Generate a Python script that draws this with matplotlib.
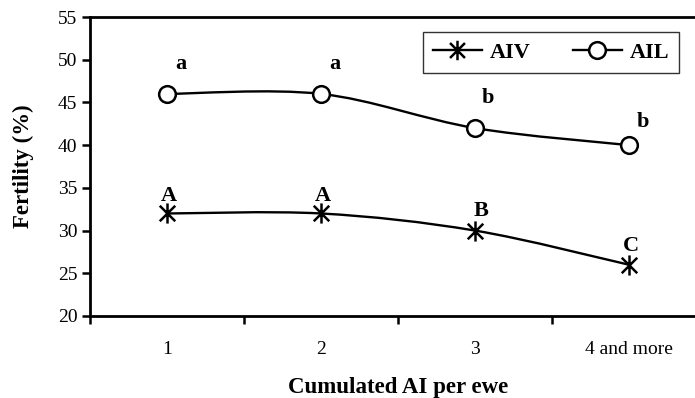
import numpy as np
import matplotlib.pyplot as plt
from matplotlib.path import Path
from matplotlib.patches import PathPatch
from matplotlib.lines import Line2D

categories = ["1", "2", "3", "4 and more"]
aiv = [32, 32, 30, 26]
ail = [46, 46, 42, 40]
aiv_letters = ["A", "A", "B", "C"]
ail_letters = ["a", "a", "b", "b"]

plt.rcParams['font.family'] = ['Liberation Serif', 'DejaVu Serif']

xpos = np.arange(len(categories)) + 0.5


def smooth_path(xs, ys, t=1/6.0):
    # excel-like smoothed line: cubic bezier with catmull-rom control points
    pts = np.column_stack([xs, ys]).astype(float)
    n = len(pts)
    verts = [pts[0]]
    codes = [Path.MOVETO]
    for i in range(n - 1):
        p0 = pts[i - 1] if i > 0 else pts[i]
        p1 = pts[i]
        p2 = pts[i + 1]
        p3 = pts[i + 2] if i + 2 < n else pts[i + 1]
        c1 = p1 + (p2 - p0) * t
        c2 = p2 - (p3 - p1) * t
        verts += [c1, c2, p2]
        codes += [Path.CURVE4] * 3
    return Path(verts, codes)


star = Path([(-1, -1), (1, 1), (-1, 1), (1, -1), (0, -1.3), (0, 1.3)],
            [Path.MOVETO, Path.LINETO, Path.MOVETO, Path.LINETO, Path.MOVETO, Path.LINETO])

fig = plt.figure(figsize=(6.95, 3.98), dpi=100)
ax = fig.add_axes([90/695, 1 - 316/398, 616/695, 299/398])

for ys in (aiv, ail):
    ax.add_patch(PathPatch(smooth_path(xpos, ys), facecolor='none', edgecolor='black', lw=1.7, zorder=2))

ax.plot(xpos, aiv, linestyle='none', marker=star, markersize=14.5, markeredgewidth=1.8,
        color='black', zorder=3)
ax.plot(xpos, ail, linestyle='none', marker='o', markersize=12, markeredgewidth=1.8,
        markerfacecolor='white', markeredgecolor='black', zorder=3)

# label offsets in pixels (dx, dy up)
ail_off = [(14, 30), (14, 30), (13, 30), (14, 23)]
aiv_off = [(2, 17), (2, 17), (6, 20), (2, 19)]
for x, y, s, o in zip(xpos, ail, ail_letters, ail_off):
    ax.annotate(s, (x, y), xytext=o, textcoords='offset pixels', ha='center', va='center',
                fontsize=16, fontweight='bold')
for x, y, s, o in zip(xpos, aiv, aiv_letters, aiv_off):
    ax.annotate(s, (x, y), xytext=o, textcoords='offset pixels', ha='center', va='center',
                fontsize=16, fontweight='bold')

ax.set_xlim(0, 4)
ax.set_ylim(20, 55)
ax.set_yticks(np.arange(20, 56, 5))
ax.set_xticks(xpos)
ax.set_xticklabels(categories)
ax.set_xticks(np.arange(0, 5), minor=True)
ax.tick_params(axis='x', which='major', length=0, pad=18, labelsize=14)
ax.tick_params(axis='x', which='minor', length=6, width=1.8, direction='out')
ax.tick_params(axis='y', length=6, width=1.8, direction='out', labelsize=14, pad=3)
for sp in ax.spines.values():
    sp.set_linewidth(2.0)
ax.spines['right'].set_visible(False)

ax.set_ylabel("Fertility (%)", fontsize=16.5, fontweight='bold', labelpad=17)
ax.set_xlabel("Cumulated AI per ewe", fontsize=16.5, fontweight='bold', labelpad=14)

h1 = Line2D([], [], color='black', lw=1.7, marker=star, markersize=14, markeredgewidth=1.8)
h2 = Line2D([], [], color='black', lw=1.7, marker='o', markersize=12, markeredgewidth=1.8,
            markerfacecolor='white')
leg = ax.legend([h1, h2], ["AIV", "AIL"], ncol=2, loc='upper left',
                bbox_to_anchor=((423 - 90)/616, 1 - 15/299), fancybox=False, frameon=True,
                edgecolor='black', prop={'weight': 'bold', 'size': 16}, handlelength=2.2,
                columnspacing=1.9, borderpad=0.45, borderaxespad=0, handletextpad=0.35)
leg.get_frame().set_linewidth(1.0)

fig.savefig("out.png", dpi=100)
